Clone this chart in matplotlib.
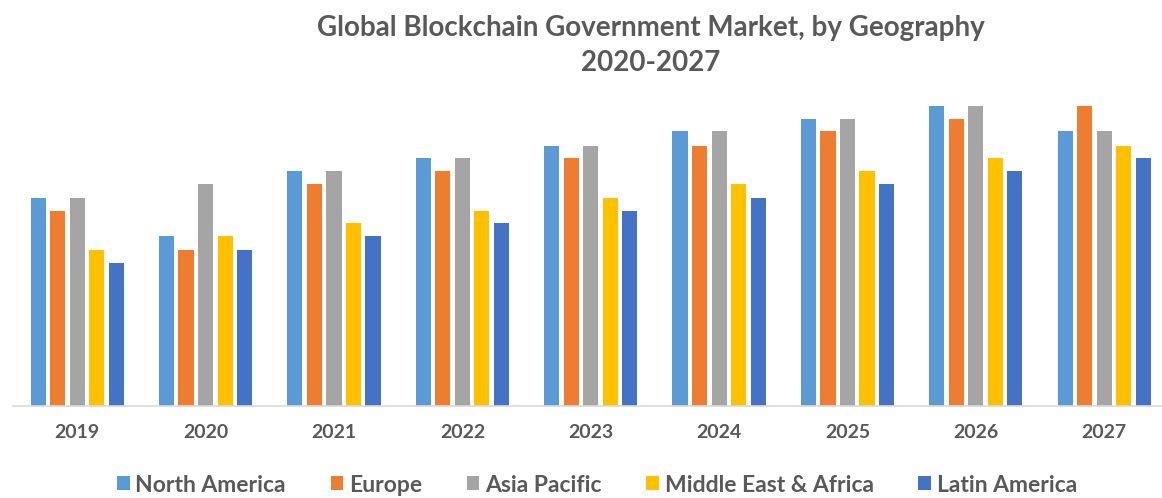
import matplotlib.pyplot as plt
import numpy as np

years = ["2019", "2020", "2021", "2022", "2023", "2024", "2025", "2026", "2027"]
regions = ["North America", "Europe", "Asia Pacific", "Middle East & Africa", "Latin America"]
colors = ["#5B9BD5", "#ED7D31", "#A5A5A5", "#FFC000", "#4472C4"]

north_america = [20.8, 17.0, 23.5, 24.8, 26.0, 27.5, 28.7, 30.0, 27.5]
europe = [19.5, 15.6, 22.2, 23.5, 24.8, 26.0, 27.5, 28.7, 30.0]
asia_pacific = [20.8, 22.2, 23.5, 24.8, 26.0, 27.5, 28.7, 30.0, 27.5]
middle_east_africa = [15.6, 17.0, 18.3, 19.5, 20.8, 22.2, 23.5, 24.8, 26.0]
latin_america = [14.3, 15.6, 17.0, 18.3, 19.5, 20.8, 22.2, 23.5, 24.8]

series = [north_america, europe, asia_pacific, middle_east_africa, latin_america]
text_color = "#595959"

fig = plt.figure(figsize=(11.62, 4.98), dpi=100)
ax = fig.add_axes([13 / 1162, 92 / 498, 1149 / 1162, 316 / 498])

x = np.arange(len(years))
pitch = 0.152
for i, (name, vals, c) in enumerate(zip(regions, series, colors)):
  ax.bar(x + (i - 2) * pitch, vals, width=0.118, color=c, label=name)

ax.set_xlim(-0.5, 8.45)
ax.set_ylim(0, 31.6)
ax.set_yticks([])
ax.set_xticks(x)
ax.set_xticklabels(years, fontsize=14, fontweight="bold", color=text_color,
                   family="Lato")
ax.tick_params(axis="x", length=0, pad=13)
for side in ["top", "right", "left"]:
  ax.spines[side].set_visible(False)
ax.spines["bottom"].set_color("#D9D9D9")
ax.spines["bottom"].set_linewidth(1.2)

fig.text(651 / 1162, 1 - 28 / 498, "Global Blockchain Government Market, by Geography",
         ha="center", va="center", fontsize=20, fontweight="bold",
         color=text_color, family="Lato")
fig.text(651 / 1162, 1 - 63 / 498, "2020-2027", ha="center", va="center",
         fontsize=20, fontweight="bold", color=text_color, family="Lato")

leg = fig.legend(loc="center", bbox_to_anchor=(597 / 1162, 1 - 485 / 498), ncol=5,
                 frameon=False, handlelength=0.55, handleheight=0.55,
                 handletextpad=0.25, columnspacing=1.95,
                 prop={"family": "Lato", "weight": "bold", "size": 16.5})
for t in leg.get_texts():
  t.set_color(text_color)

plt.savefig("out.png", dpi=100)
